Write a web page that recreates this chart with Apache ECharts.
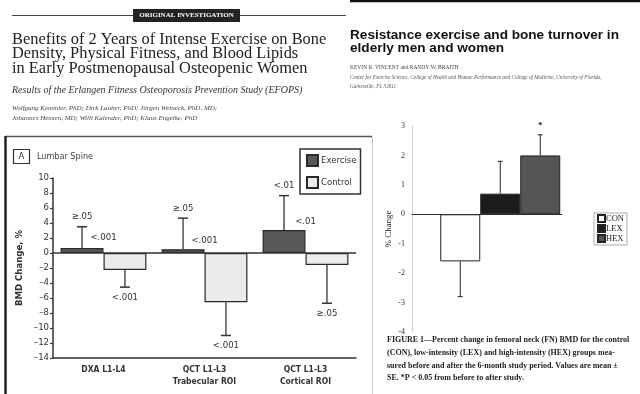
<!DOCTYPE html>
<html><head><meta charset="utf-8">
<script src="https://cdn.jsdelivr.net/npm/echarts@6/dist/echarts.min.js"></script>
<style>html,body{margin:0;padding:0;background:#fff}#c{width:640px;height:394px}</style>
</head><body><div id="c"></div>
<script>
// ---- Left chart (Lumbar Spine BMD change, %) ----
const spineCategories = ['DXA L1-L4', 'QCT L1-L3\nTrabecular ROI', 'QCT L1-L3\nCortical ROI'];
const exerciseMean = [0.65, 0.5, 3.05];
const exerciseErrTop = [3.5, 4.65, 7.65];
const controlMean = [-2.25, -6.55, -1.6];
const controlErrBottom = [-4.55, -11.0, -6.7];
const exercisePLabels = ['≥.05', '≥.05', '<.01'];
const betweenPLabels = ['<.001', '<.001', '<.01'];
const betweenPLabelY = [2.0, 1.7, 4.2];
const controlPLabels = ['<.001', '<.001', '≥.05'];
const spineAxisMin = -14, spineAxisMax = 10, spineAxisStep = 2;

// ---- Right chart (femoral neck BMD, % change) ----
const fnGroups = ['CON', 'LEX', 'HEX'];
const fnMean = [-1.6, 0.7, 2.0];
const fnErrEnd = [-2.8, 1.8, 2.7];
const fnSig = ['', '', '*'];
const fnAxisMin = -4, fnAxisMax = 3, fnAxisStep = 1;

const NARROW = '"DejaVu Sans Condensed","Liberation Sans Narrow",sans-serif';
const SERIF = '"Liberation Serif","DejaVu Serif",serif';
const SANS = '"Liberation Sans",Arial,sans-serif';
const fnColors = ['#ffffff', '#1c1c1c', '#555555'];
const FN_BAR_W = 40;
const FN_X = 2;

const chart = echarts.init(document.getElementById('c'), null, {renderer: 'canvas'});

function spineErr(means, ends, labels, side) {
  return function (params, api) {
    const i = params.dataIndex;
    const band = api.size([1, 0])[0];
    const bw = band * 0.85 / 2;
    const c0 = api.coord([i, means[i]]);
    const c1 = api.coord([i, ends[i]]);
    const x = c0[0] + side * bw / 2;
    const dir = ends[i] > means[i] ? -1 : 1;
    return {type: 'group', children: [
      {type: 'line', shape: {x1: x, y1: c0[1], x2: x, y2: c1[1]}, style: {stroke: '#333', lineWidth: 1.3}},
      {type: 'line', shape: {x1: x - 5, y1: c1[1], x2: x + 5, y2: c1[1]}, style: {stroke: '#333', lineWidth: 1.5}},
      {type: 'text', style: {text: labels[i], x: x, y: c1[1] + dir * 10, align: 'center', verticalAlign: 'middle',
        fontFamily: NARROW, fontSize: 9.5, fill: '#333'}}
    ]};
  };
}

function spineMid(params, api) {
  const i = params.dataIndex;
  const c = api.coord([i, betweenPLabelY[i]]);
  return {type: 'text', style: {text: betweenPLabels[i], x: c[0], y: c[1], align: 'center', verticalAlign: 'middle',
    fontFamily: NARROW, fontSize: 9.5, fill: '#333'}};
}

function fnErr(params, api) {
  const i = params.dataIndex;
  const c0 = api.coord([FN_X, fnMean[i]]);
  const c1 = api.coord([FN_X, fnErrEnd[i]]);
  const x = c0[0] + (i - 1) * FN_BAR_W;
  const dir = fnErrEnd[i] > fnMean[i] ? -1 : 1;
  return {type: 'group', children: [
    {type: 'line', shape: {x1: x, y1: c0[1], x2: x, y2: c1[1]}, style: {stroke: '#222', lineWidth: 1}},
    {type: 'line', shape: {x1: x - 2.5, y1: c1[1], x2: x + 2.5, y2: c1[1]}, style: {stroke: '#222', lineWidth: 1}},
    {type: 'text', style: {text: fnSig[i], x: x, y: c1[1] + dir * 9, align: 'center', verticalAlign: 'middle',
      fontFamily: SERIF, fontSize: 9, fontWeight: 'bold', fill: '#222'}}
  ]};
}

const option = {
  backgroundColor: '#fff',
  animation: false,
  legend: [
    {data: ['Exercise', 'Control'], orient: 'vertical', left: 300, top: 149,
     itemWidth: 11, itemHeight: 11, itemGap: 9, padding: [5, 4, 5, 6],
     borderColor: '#333', borderWidth: 1.5, icon: 'rect',
     textStyle: {fontFamily: NARROW, fontSize: 9.5, color: '#333', padding: [0, 0, 0, -2]}},
    {data: fnGroups, orient: 'vertical', left: 594, top: 213,
     itemWidth: 7, itemHeight: 7, itemGap: 1, padding: [1, 3, 2, 3],
     borderColor: '#aaa', borderWidth: 1, icon: 'rect',
     textStyle: {fontFamily: SERIF, fontSize: 8.5, color: '#222', padding: [-3, 0, 0, -4]}}
  ],
  grid: [
    {left: 53, top: 178, width: 303, height: 180},
    {left: 412, top: 126, width: 150, height: 206}
  ],
  xAxis: [
    {gridIndex: 0, type: 'category', data: spineCategories,
     axisLine: {onZero: false, lineStyle: {color: '#333', width: 1.5}},
     axisTick: {show: false},
     axisLabel: {fontFamily: NARROW, fontSize: 8.5, fontWeight: 'bold', color: '#333', margin: 6, lineHeight: 12}},
    {gridIndex: 1, type: 'value', min: 0, max: 3.4,
     axisLine: {onZero: true, lineStyle: {color: '#333', width: 1.2}},
     axisTick: {show: false}, axisLabel: {show: false}, splitLine: {show: false}}
  ],
  yAxis: [
    {gridIndex: 0, type: 'value', min: spineAxisMin, max: spineAxisMax, interval: spineAxisStep,
     name: 'BMD Change, %', nameLocation: 'middle', nameGap: 28,
     nameTextStyle: {fontFamily: NARROW, fontSize: 9.5, fontWeight: 'bold', color: '#333'},
     axisLine: {show: true, lineStyle: {color: '#333', width: 1.5}},
     axisTick: {show: true, length: 3, lineStyle: {color: '#333', width: 1.2}},
     axisLabel: {fontFamily: NARROW, fontSize: 9.5, color: '#333', margin: 4,
       formatter: v => String(v).replace('-', '–')},
     splitLine: {show: false}},
    {gridIndex: 1, type: 'value', min: fnAxisMin, max: fnAxisMax, interval: fnAxisStep,
     name: '% Change', nameLocation: 'middle', nameGap: 19,
     nameTextStyle: {fontFamily: SERIF, fontSize: 9, color: '#222'},
     axisLine: {show: true, lineStyle: {color: '#d0d0d0', width: 1}},
     axisTick: {show: false},
     axisLabel: {fontFamily: SERIF, fontSize: 8, color: '#333', margin: 7},
     splitLine: {show: false}}
  ],
  series: [
    {name: 'Exercise', type: 'bar', xAxisIndex: 0, yAxisIndex: 0, data: exerciseMean,
     barGap: '0%', barCategoryGap: '15%',
     itemStyle: {color: '#585858', borderColor: '#2a2a2a', borderWidth: 1.2},
     markLine: {silent: true, symbol: 'none', label: {show: false},
       lineStyle: {color: '#333', width: 1.5, type: 'solid'}, data: [{yAxis: 0}]}},
    {name: 'Control', type: 'bar', xAxisIndex: 0, yAxisIndex: 0, data: controlMean,
     barGap: '0%', barCategoryGap: '15%',
     itemStyle: {color: '#ebebeb', borderColor: '#2a2a2a', borderWidth: 1.2}},
    {type: 'custom', xAxisIndex: 0, yAxisIndex: 0, data: exerciseMean.map((v, i) => [i, v]),
     renderItem: spineErr(exerciseMean, exerciseErrTop, exercisePLabels, -1), z: 3},
    {type: 'custom', xAxisIndex: 0, yAxisIndex: 0, data: controlMean.map((v, i) => [i, v]),
     renderItem: spineErr(controlMean, controlErrBottom, controlPLabels, 1), z: 3},
    {type: 'custom', xAxisIndex: 0, yAxisIndex: 0, data: betweenPLabelY.map((v, i) => [i, v]),
     renderItem: spineMid, z: 3},
    ...fnGroups.map((g, i) => ({
      name: g, type: 'bar', xAxisIndex: 1, yAxisIndex: 1, data: [[FN_X, fnMean[i]]],
      barWidth: FN_BAR_W, barGap: '0%',
      itemStyle: {color: fnColors[i], borderColor: '#222', borderWidth: 1}
    })),
    {type: 'custom', xAxisIndex: 1, yAxisIndex: 1, data: fnMean.map(v => [FN_X, v]),
     renderItem: fnErr, z: 3}
  ],
  graphic: [
    // left article header
    {type: 'line', shape: {x1: 12, y1: 15.5, x2: 133, y2: 15.5}, style: {stroke: '#444', lineWidth: 1}},
    {type: 'line', shape: {x1: 240, y1: 15.5, x2: 346, y2: 15.5}, style: {stroke: '#444', lineWidth: 1}},
    {type: 'rect', shape: {x: 133, y: 9, width: 107, height: 13}, style: {fill: '#222'}},
    {type: 'text', x: 186.5, y: 15.5, style: {text: 'ORIGINAL INVESTIGATION', align: 'center', verticalAlign: 'middle',
      fontFamily: SERIF, fontSize: 7, fontWeight: 'bold', fill: '#fff'}},
    {type: 'text', x: 12, y: 32, style: {text: 'Benefits of 2 Years of Intense Exercise on Bone\nDensity, Physical Fitness, and Blood Lipids\nin Early Postmenopausal Osteopenic Women',
      fontFamily: SERIF, fontSize: 16.4, lineHeight: 14.6, fill: '#222'}},
    {type: 'text', x: 12, y: 90, style: {text: 'Results of the Erlangen Fitness Osteoporosis Prevention Study (EFOPS)', verticalAlign: 'middle',
      fontFamily: SERIF, fontSize: 10, fontStyle: 'italic', fill: '#333'}},
    {type: 'text', x: 12, y: 103, style: {text: 'Wolfgang Kemmler, PhD; Dirk Lauber, PhD; Jürgen Weineck, PhD, MD;\nJohannes Hensen, MD; Willi Kalender, PhD; Klaus Engelke, PhD',
      fontFamily: SERIF, fontSize: 7, lineHeight: 10, fontStyle: 'italic', fill: '#444'}},
    // right article header
    {type: 'line', shape: {x1: 350, y1: 1, x2: 640, y2: 1}, style: {stroke: '#111', lineWidth: 2.5}},
    {type: 'text', x: 350, y: 29, style: {text: 'Resistance exercise and bone turnover in\nelderly men and women',
      fontFamily: SANS, fontSize: 13.6, fontWeight: 'bold', lineHeight: 13, fill: '#111'}},
    {type: 'text', x: 350, y: 68, style: {text: 'KEVIN R. VINCENT and RANDY W. BRAITH', verticalAlign: 'middle',
      fontFamily: SERIF, fontSize: 5.5, fill: '#444'}},
    {type: 'text', x: 350, y: 73, style: {text: 'Center for Exercise Science, College of Health and Human Performance and College of Medicine, University of Florida,\nGainesville, FL 32611',
      fontFamily: SERIF, fontSize: 5.2, lineHeight: 9, fontStyle: 'italic', fill: '#555'}},
    // left panel frame
    {type: 'line', shape: {x1: 5, y1: 136.5, x2: 372, y2: 136.5}, style: {stroke: '#555', lineWidth: 1.5}},
    {type: 'line', shape: {x1: 5.5, y1: 136, x2: 5.5, y2: 394}, style: {stroke: '#222', lineWidth: 2.5}},
    {type: 'line', shape: {x1: 372.5, y1: 137, x2: 372.5, y2: 394}, style: {stroke: '#ccc', lineWidth: 1}},
    {type: 'rect', shape: {x: 13.5, y: 149.5, width: 16, height: 14}, style: {fill: 'none', stroke: '#333', lineWidth: 1.2}},
    {type: 'text', x: 21.5, y: 156.5, style: {text: 'A', align: 'center', verticalAlign: 'middle',
      fontFamily: NARROW, fontSize: 9.5, fill: '#333'}},
    {type: 'text', x: 37, y: 157, style: {text: 'Lumbar Spine', verticalAlign: 'middle',
      fontFamily: NARROW, fontSize: 9, fill: '#444'}},
    // right figure caption
    {type: 'text', x: 387, y: 334, style: {
      text: 'FIGURE 1—Percent change in femoral neck (FN) BMD for the control\n(CON), low-intensity (LEX) and high-intensity (HEX) groups mea-\nsured before and after the 6-month study period. Values are mean ±\nSE. *P < 0.05 from before to after study.',
      fontFamily: SERIF, fontSize: 8, fontWeight: 'bold', lineHeight: 12.6, fill: '#222'}}
  ]
};
chart.setOption(option);
</script></body></html>
